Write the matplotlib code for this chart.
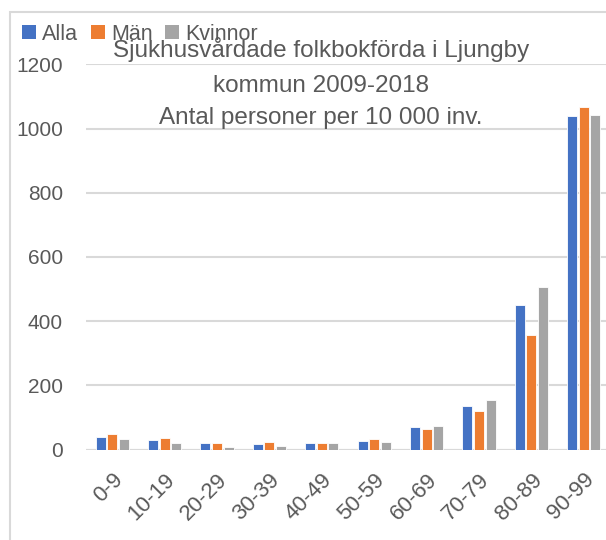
import numpy as np
import matplotlib
matplotlib.use("Agg")
import matplotlib.pyplot as plt
from matplotlib.patches import Rectangle, Patch

# age groups and values (persons per 10 000 inhabitants)
groups = ["0-9", "10-19", "20-29", "30-39", "40-49", "50-59",
          "60-69", "70-79", "80-89", "90-99"]
alla = [40, 31, 21, 19, 21, 28, 70, 136, 452, 1040]
man = [50, 36, 21, 23, 21, 34, 63, 122, 358, 1066]
kvinnor = [33, 22, 9, 11, 20, 24, 74, 155, 507, 1042]
series_names = ["Alla", "Män", "Kvinnor"]
colors = ["#4472C4", "#ED7D31", "#A5A5A5"]
title_lines = ["Sjukhusvårdade folkbokförda i Ljungby",
               "kommun 2009-2018",
               "Antal personer per 10 000 inv."]

plt.rcParams['font.family'] = ['Liberation Sans', 'DejaVu Sans']
txt = "#595959"
grid = "#D9D9D9"

W, H = 606, 540
fig = plt.figure(figsize=(W / 100, H / 100), dpi=100)

# chart border (right/bottom fall outside the picture)
fig.patches.append(Rectangle((10 / W, -0.1), 1.2, 1.1 - 12 / H,
                             transform=fig.transFigure, fill=False,
                             edgecolor=grid, lw=1.5))

left, right = 86, 610
bottom, top = 449.7, 64.3
ax = fig.add_axes([left / W, (H - bottom) / H, (right - left) / W,
                   (bottom - top) / H])

x = np.arange(len(groups))
bw = 0.19
step = 0.22
for i, (vals, c) in enumerate(zip([alla, man, kvinnor], colors)):
    ax.bar(x + (i - 1) * step, vals, width=bw, color=c,
           edgecolor="white", linewidth=0.6, zorder=3)

ax.set_xlim(-0.5, len(groups) - 0.5)
ax.set_ylim(0, 1200)
ax.set_yticks(range(0, 1201, 200))
ax.yaxis.grid(True, color=grid, lw=1.5, zorder=0)
for s in ax.spines.values():
    s.set_visible(False)
ax.axhline(0, color=grid, lw=1.5, zorder=2)
ax.tick_params(axis="y", length=0, colors=txt, labelsize=15, pad=16.5)
ax.set_xticks(x)
ax.set_xticklabels(groups, rotation=45, ha="right", rotation_mode="anchor")
ax.tick_params(axis="x", length=0, colors=txt, labelsize=16, pad=14)

# title lines inside the plot area
for line, yy in zip(title_lines, [57, 92, 124]):
    fig.text(321 / W, (H - yy) / H, line, ha="center", va="baseline",
             fontsize=17.5, color=txt)

handles = [Patch(facecolor=c, edgecolor="none") for c in colors]
fig.legend(handles, series_names, loc="center left",
           bbox_to_anchor=(18 / W, (H - 34) / H), ncol=3, frameon=False,
           fontsize=15.5, labelcolor=txt, handlelength=0.65,
           handleheight=0.65, handletextpad=0.27, columnspacing=0.6,
           borderaxespad=0, borderpad=0.2)

fig.savefig("out.png", dpi=100)
